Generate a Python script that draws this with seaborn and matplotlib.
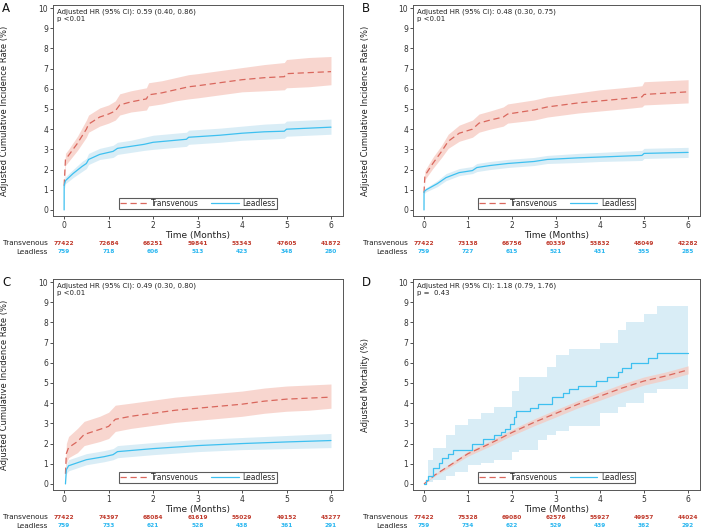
import numpy as np
import pandas as pd
import matplotlib
matplotlib.use("Agg")
import matplotlib.pyplot as plt
import seaborn as sns
from matplotlib.lines import Line2D

# ---- data ----
times = [0, 1, 2, 3, 4, 5, 6]

# Panel A
a_tv_t = [0, 0.03, 0.1, 0.3, 0.5, 0.55, 0.8, 1.0, 1.15, 1.25, 1.5, 1.85, 1.9, 2.2, 2.5, 2.8, 3.0, 3.5, 4.0, 4.5, 4.95, 5.0, 5.5, 6.0]
a_tv_y = [1.2, 2.5, 2.7, 3.3, 4.0, 4.25, 4.6, 4.75, 4.9, 5.2, 5.35, 5.5, 5.7, 5.8, 5.95, 6.1, 6.15, 6.3, 6.45, 6.55, 6.6, 6.75, 6.8, 6.85]
a_tv_lo = [1.0, 2.2, 2.4, 2.95, 3.6, 3.85, 4.15, 4.3, 4.45, 4.7, 4.85, 4.95, 5.15, 5.25, 5.4, 5.5, 5.55, 5.7, 5.85, 5.9, 5.95, 6.05, 6.1, 6.2]
a_tv_hi = [1.4, 2.8, 3.0, 3.65, 4.45, 4.7, 5.05, 5.2, 5.4, 5.75, 5.9, 6.05, 6.3, 6.4, 6.55, 6.7, 6.75, 6.9, 7.05, 7.2, 7.3, 7.45, 7.55, 7.6]
a_ld_t = [0, 0.001, 0.03, 0.2, 0.4, 0.5, 0.55, 0.8, 1.1, 1.2, 1.5, 1.8, 2.0, 2.5, 2.75, 2.8, 3.5, 4.0, 4.5, 4.95, 5.0, 6.0]
a_ld_y = [0, 1.2, 1.45, 1.8, 2.15, 2.3, 2.5, 2.75, 2.9, 3.05, 3.15, 3.25, 3.35, 3.45, 3.5, 3.6, 3.7, 3.8, 3.87, 3.9, 4.0, 4.1]
a_ld_lo = [0, 1.0, 1.3, 1.6, 1.9, 2.05, 2.25, 2.5, 2.6, 2.75, 2.85, 2.95, 3.0, 3.1, 3.15, 3.25, 3.35, 3.45, 3.5, 3.55, 3.65, 3.75]
a_ld_hi = [0, 1.4, 1.65, 2.0, 2.4, 2.55, 2.8, 3.05, 3.2, 3.35, 3.45, 3.6, 3.7, 3.8, 3.85, 3.95, 4.05, 4.15, 4.25, 4.3, 4.4, 4.5]
a_tv_risk = [77422, 72684, 66251, 59841, 53343, 47605, 41872]
a_ld_risk = [759, 718, 606, 513, 423, 348, 280]

# Panel B
b_tv_t = [0, 0.02, 0.2, 0.4, 0.55, 0.8, 1.1, 1.25, 1.5, 1.8, 1.9, 2.5, 2.8, 3.5, 4.0, 4.5, 4.95, 5.0, 6.0]
b_tv_y = [0.85, 1.7, 2.3, 2.9, 3.4, 3.8, 4.0, 4.3, 4.45, 4.6, 4.75, 4.95, 5.1, 5.3, 5.4, 5.5, 5.6, 5.72, 5.85]
b_tv_lo = [0.7, 1.5, 2.05, 2.6, 3.05, 3.4, 3.6, 3.85, 4.0, 4.15, 4.3, 4.45, 4.6, 4.8, 4.9, 5.0, 5.1, 5.2, 5.3]
b_tv_hi = [1.0, 1.95, 2.6, 3.2, 3.75, 4.2, 4.45, 4.75, 4.9, 5.1, 5.25, 5.45, 5.6, 5.8, 5.95, 6.05, 6.15, 6.35, 6.45]
b_ld_t = [0, 0.001, 0.05, 0.3, 0.5, 0.8, 1.1, 1.2, 1.5, 1.9, 2.5, 2.8, 3.5, 4.0, 4.95, 5.0, 6.0]
b_ld_y = [0, 0.9, 1.0, 1.3, 1.6, 1.85, 1.95, 2.1, 2.2, 2.3, 2.4, 2.5, 2.58, 2.62, 2.7, 2.8, 2.85]
b_ld_lo = [0, 0.8, 0.9, 1.15, 1.45, 1.7, 1.8, 1.9, 2.0, 2.1, 2.2, 2.3, 2.35, 2.4, 2.45, 2.55, 2.6]
b_ld_hi = [0, 1.0, 1.1, 1.45, 1.8, 2.05, 2.15, 2.3, 2.4, 2.5, 2.6, 2.7, 2.8, 2.85, 2.95, 3.05, 3.1]
b_tv_risk = [77422, 73138, 66756, 60339, 53832, 48049, 42282]
b_ld_risk = [759, 727, 615, 521, 431, 355, 285]

# Panel C
c_tv_t = [0.03, 0.05, 0.1, 0.3, 0.45, 0.8, 1.0, 1.15, 1.5, 2.0, 2.5, 3.0, 3.5, 4.0, 4.5, 5.0, 5.5, 6.0]
c_tv_y = [0.5, 1.5, 1.8, 2.1, 2.45, 2.7, 2.85, 3.2, 3.35, 3.5, 3.65, 3.75, 3.85, 3.95, 4.1, 4.2, 4.25, 4.3]
c_tv_lo = [0.3, 1.0, 1.3, 1.55, 1.9, 2.1, 2.25, 2.6, 2.75, 2.9, 3.05, 3.15, 3.25, 3.35, 3.5, 3.6, 3.65, 3.75]
c_tv_hi = [0.8, 2.0, 2.35, 2.75, 3.1, 3.35, 3.55, 3.9, 4.0, 4.15, 4.3, 4.4, 4.5, 4.6, 4.75, 4.85, 4.9, 4.95]
c_ld_t = [0.03, 0.05, 0.1, 0.3, 0.5, 0.9, 1.1, 1.2, 2.0, 3.0, 4.0, 5.0, 6.0]
c_ld_y = [0, 0.7, 0.9, 1.05, 1.2, 1.35, 1.45, 1.6, 1.75, 1.9, 2.0, 2.08, 2.15]
c_ld_lo = [0, 0.5, 0.65, 0.8, 0.95, 1.1, 1.2, 1.3, 1.45, 1.6, 1.7, 1.75, 1.8]
c_ld_hi = [0, 0.95, 1.2, 1.35, 1.5, 1.65, 1.75, 1.9, 2.05, 2.2, 2.3, 2.4, 2.5]
c_tv_risk = [77422, 74397, 68084, 61619, 55029, 49152, 43277]
c_ld_risk = [759, 733, 621, 528, 438, 361, 291]

# Panel D
d_tv_t = [0, 0.25, 0.5, 0.75, 1.0, 1.5, 2.0, 2.5, 3.0, 3.5, 4.0, 4.5, 5.0, 5.5, 6.0]
d_tv_y = [0, 0.45, 0.8, 1.15, 1.5, 2.0, 2.55, 3.05, 3.5, 3.95, 4.35, 4.75, 5.1, 5.35, 5.65]
d_tv_lo = [0, 0.4, 0.72, 1.05, 1.38, 1.87, 2.4, 2.88, 3.32, 3.77, 4.15, 4.55, 4.9, 5.15, 5.45]
d_tv_hi = [0, 0.5, 0.88, 1.25, 1.62, 2.13, 2.7, 3.22, 3.68, 4.13, 4.55, 4.95, 5.3, 5.55, 5.85]
d_ld_t = [0, 0.05, 0.1, 0.2, 0.35, 0.4, 0.55, 0.65, 1.1, 1.35, 1.6, 1.75, 1.85, 1.95, 2.05, 2.1, 2.4, 2.6, 2.9, 3.15, 3.3, 3.5, 3.9, 4.15, 4.4, 4.5, 4.7, 5.1, 5.3, 6.0]
d_ld_y = [0, 0.2, 0.4, 0.8, 1.05, 1.3, 1.5, 1.7, 2.0, 2.25, 2.4, 2.55, 2.7, 2.95, 3.3, 3.6, 3.75, 3.95, 4.3, 4.5, 4.7, 4.85, 5.1, 5.3, 5.55, 5.75, 6.0, 6.25, 6.5, 6.5]
d_ld_ci_t = [0, 0.1, 0.2, 0.5, 0.7, 1.0, 1.3, 1.6, 2.0, 2.15, 2.6, 2.8, 3.0, 3.3, 4.0, 4.4, 4.6, 5.0, 5.3, 6.0]
d_ld_lo = [0, 0.1, 0.2, 0.4, 0.6, 0.95, 1.05, 1.2, 1.6, 1.7, 2.2, 2.4, 2.6, 2.85, 3.5, 3.8, 4.0, 4.5, 4.7, 4.7]
d_ld_hi = [0, 1.2, 1.8, 2.4, 2.9, 3.2, 3.5, 3.8, 4.6, 5.3, 5.3, 5.8, 6.4, 6.7, 7.0, 7.6, 8.0, 8.4, 8.8, 8.8]
d_tv_risk = [77422, 75328, 69080, 62576, 55927, 49957, 44024]
d_ld_risk = [759, 734, 622, 529, 439, 362, 292]

hr_text = ["Adjusted HR (95% CI): 0.59 (0.40, 0.86)\np <0.01",
           "Adjusted HR (95% CI): 0.48 (0.30, 0.75)\np <0.01",
           "Adjusted HR (95% CI): 0.49 (0.30, 0.80)\np <0.01",
           "Adjusted HR (95% CI): 1.18 (0.79, 1.76)\np =  0.43"]
ylabels = ["Adjusted Cumulative Incidence Rate (%)"] * 3 + ["Adjusted Mortality (%)"]
letters = ["A", "B", "C", "D"]

# ---- style ----
RED = "#d9675d"
RED_FILL = "#f6c9c0"
RED_TXT = "#c0392b"
BLUE = "#3ec0f0"
BLUE_FILL = "#d3eaf5"
BLUE_TXT = "#29b6f0"
DASH = (0, (5, 3))

sns.set_style("ticks")
plt.rcParams["font.family"] = ["DejaVu Sans"]

fig = plt.figure(figsize=(7.02, 5.29), dpi=100)
W, H = 702, 529
boxes = [(53, 5, 343, 216), (413, 5, 700, 216), (53, 279, 343, 490), (413, 279, 700, 490)]

panels = [
    (a_tv_t, a_tv_y, a_tv_lo, a_tv_hi, a_ld_t, a_ld_y, a_ld_t, a_ld_lo, a_ld_hi, a_tv_risk, a_ld_risk, "default"),
    (b_tv_t, b_tv_y, b_tv_lo, b_tv_hi, b_ld_t, b_ld_y, b_ld_t, b_ld_lo, b_ld_hi, b_tv_risk, b_ld_risk, "default"),
    (c_tv_t, c_tv_y, c_tv_lo, c_tv_hi, c_ld_t, c_ld_y, c_ld_t, c_ld_lo, c_ld_hi, c_tv_risk, c_ld_risk, "default"),
    (d_tv_t, d_tv_y, d_tv_lo, d_tv_hi, d_ld_t, d_ld_y, d_ld_ci_t, d_ld_lo, d_ld_hi, d_tv_risk, d_ld_risk, "steps-post"),
]

for i, (box, p) in enumerate(zip(boxes, panels)):
    x0, y0, x1, y1 = box
    ax = fig.add_axes([x0 / W, 1 - y1 / H, (x1 - x0) / W, (y1 - y0) / H])
    tv_t, tv_y, tv_lo, tv_hi, ld_t, ld_y, ld_ct, ld_lo, ld_hi, tv_risk, ld_risk, ld_style = p

    ld_step = "post" if ld_style == "steps-post" else None
    ax.fill_between(ld_ct, ld_lo, ld_hi, step=ld_step, color=BLUE_FILL, alpha=0.85, lw=0)
    ax.fill_between(tv_t, tv_lo, tv_hi, color=RED_FILL, alpha=0.75, lw=0)

    df_tv = pd.DataFrame({"t": tv_t, "y": tv_y})
    df_ld = pd.DataFrame({"t": ld_t, "y": ld_y})
    sns.lineplot(data=df_tv, x="t", y="y", ax=ax, color=RED, lw=0.9,
                 linestyle=DASH, estimator=None, sort=False)
    sns.lineplot(data=df_ld, x="t", y="y", ax=ax, color=BLUE, lw=0.9,
                 drawstyle=ld_style, estimator=None, sort=False)

    ax.set_xlim(-0.25, 6.27)
    ax.set_ylim(-0.3, 10.15)
    ax.set_xticks(times)
    ax.set_yticks(range(0, 11))
    ax.tick_params(labelsize=5.5, length=2, width=0.6, colors="#333333", pad=1.5)
    for s in ax.spines.values():
        s.set_linewidth(0.7)
        s.set_color("#555555")
    ax.set_xlabel("Time (Months)", fontsize=6.5, labelpad=1, color="#222222")
    ax.set_ylabel(ylabels[i], fontsize=6, color="#222222")
    ax.yaxis.set_label_coords(-0.15, 0.5)

    ax.text(0.015, 0.985, hr_text[i], transform=ax.transAxes, ha="left", va="top",
            fontsize=5.0, color="#222222", linespacing=1.3)

    handles = [Line2D([], [], color=RED, lw=0.9, linestyle=DASH),
               Line2D([], [], color=BLUE, lw=0.9)]
    leg = ax.legend(handles, ["Transvenous", "Leadless"], loc="lower center",
                    bbox_to_anchor=(0.5, 0.035), ncol=2, fontsize=5.5, frameon=True,
                    fancybox=False, borderpad=0.12, handlelength=3.6, columnspacing=1.6,
                    handletextpad=0.5, borderaxespad=0)
    leg.get_frame().set_edgecolor("#333333")
    leg.get_frame().set_linewidth(0.8)

    tr = ax.get_xaxis_transform()
    ax.text(-0.37, -0.128, "Transvenous", transform=tr, ha="right", va="center",
            fontsize=5.2, color="#222222", clip_on=False)
    ax.text(-0.37, -0.17, "Leadless", transform=tr, ha="right", va="center",
            fontsize=5.2, color="#222222", clip_on=False)
    for t, r1, r2 in zip(times, tv_risk, ld_risk):
        ax.text(t, -0.128, str(r1), transform=tr, ha="center", va="center",
                fontsize=4.2, color=RED_TXT, fontweight="bold", clip_on=False)
        ax.text(t, -0.17, str(r2), transform=tr, ha="center", va="center",
                fontsize=4.2, color=BLUE_TXT, fontweight="bold", clip_on=False)

    fig.text((x0 - 51) / W, 1 - 2 / H - (y0 - 5) / H, letters[i], ha="left", va="top",
             fontsize=8.5, color="#111111")

fig.savefig("out.png", dpi=100)
